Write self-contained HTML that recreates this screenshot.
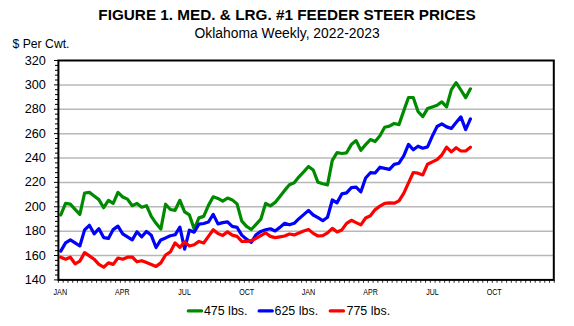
<!DOCTYPE html>
<html><head><meta charset="utf-8"><style>
html,body{margin:0;padding:0;background:#fff;}
body{width:574px;height:326px;overflow:hidden;position:relative;}
svg{position:absolute;left:0;top:0;}
text{font-family:"Liberation Sans",sans-serif;fill:#000;}
.yl{font-size:12.7px;}
.xl{font-size:8.8px;}
.lg{font-size:12px;}
.ttl{font-size:14.5px;font-weight:bold;}
.sub{font-size:14px;}
.unit{font-size:12.6px;}
</style></head><body>
<svg width="574" height="326" viewBox="0 0 574 326">
<rect width="574" height="326" fill="#fff"/>
<text x="98.3" y="19.8" class="ttl" textLength="377.4" lengthAdjust="spacingAndGlyphs">FIGURE 1. MED. &amp; LRG. #1 FEEDER STEER PRICES</text>
<text x="194.6" y="38" class="sub" textLength="185" lengthAdjust="spacingAndGlyphs">Oklahoma Weekly, 2022-2023</text>
<text x="12.5" y="48.2" class="unit" textLength="57" lengthAdjust="spacingAndGlyphs">$ Per Cwt.</text>
<line x1="58.4" y1="255.52" x2="553.8" y2="255.52" stroke="#b8b8b8" stroke-width="1.5"/>
<line x1="58.4" y1="231.14" x2="553.8" y2="231.14" stroke="#b8b8b8" stroke-width="1.5"/>
<line x1="58.4" y1="206.77" x2="553.8" y2="206.77" stroke="#b8b8b8" stroke-width="1.5"/>
<line x1="58.4" y1="182.39" x2="553.8" y2="182.39" stroke="#b8b8b8" stroke-width="1.5"/>
<line x1="58.4" y1="158.01" x2="553.8" y2="158.01" stroke="#b8b8b8" stroke-width="1.5"/>
<line x1="58.4" y1="133.63" x2="553.8" y2="133.63" stroke="#b8b8b8" stroke-width="1.5"/>
<line x1="58.4" y1="109.26" x2="553.8" y2="109.26" stroke="#b8b8b8" stroke-width="1.5"/>
<line x1="58.4" y1="84.88" x2="553.8" y2="84.88" stroke="#b8b8b8" stroke-width="1.5"/>
<line x1="54" y1="279.90" x2="58.4" y2="279.90" stroke="#000" stroke-width="1"/>
<line x1="55" y1="275.02" x2="58.4" y2="275.02" stroke="#000" stroke-width="1"/>
<line x1="55" y1="270.15" x2="58.4" y2="270.15" stroke="#000" stroke-width="1"/>
<line x1="55" y1="265.27" x2="58.4" y2="265.27" stroke="#000" stroke-width="1"/>
<line x1="55" y1="260.40" x2="58.4" y2="260.40" stroke="#000" stroke-width="1"/>
<line x1="54" y1="255.52" x2="58.4" y2="255.52" stroke="#000" stroke-width="1"/>
<line x1="55" y1="250.65" x2="58.4" y2="250.65" stroke="#000" stroke-width="1"/>
<line x1="55" y1="245.77" x2="58.4" y2="245.77" stroke="#000" stroke-width="1"/>
<line x1="55" y1="240.90" x2="58.4" y2="240.90" stroke="#000" stroke-width="1"/>
<line x1="55" y1="236.02" x2="58.4" y2="236.02" stroke="#000" stroke-width="1"/>
<line x1="54" y1="231.14" x2="58.4" y2="231.14" stroke="#000" stroke-width="1"/>
<line x1="55" y1="226.27" x2="58.4" y2="226.27" stroke="#000" stroke-width="1"/>
<line x1="55" y1="221.39" x2="58.4" y2="221.39" stroke="#000" stroke-width="1"/>
<line x1="55" y1="216.52" x2="58.4" y2="216.52" stroke="#000" stroke-width="1"/>
<line x1="55" y1="211.64" x2="58.4" y2="211.64" stroke="#000" stroke-width="1"/>
<line x1="54" y1="206.77" x2="58.4" y2="206.77" stroke="#000" stroke-width="1"/>
<line x1="55" y1="201.89" x2="58.4" y2="201.89" stroke="#000" stroke-width="1"/>
<line x1="55" y1="197.02" x2="58.4" y2="197.02" stroke="#000" stroke-width="1"/>
<line x1="55" y1="192.14" x2="58.4" y2="192.14" stroke="#000" stroke-width="1"/>
<line x1="55" y1="187.26" x2="58.4" y2="187.26" stroke="#000" stroke-width="1"/>
<line x1="54" y1="182.39" x2="58.4" y2="182.39" stroke="#000" stroke-width="1"/>
<line x1="55" y1="177.51" x2="58.4" y2="177.51" stroke="#000" stroke-width="1"/>
<line x1="55" y1="172.64" x2="58.4" y2="172.64" stroke="#000" stroke-width="1"/>
<line x1="55" y1="167.76" x2="58.4" y2="167.76" stroke="#000" stroke-width="1"/>
<line x1="55" y1="162.89" x2="58.4" y2="162.89" stroke="#000" stroke-width="1"/>
<line x1="54" y1="158.01" x2="58.4" y2="158.01" stroke="#000" stroke-width="1"/>
<line x1="55" y1="153.14" x2="58.4" y2="153.14" stroke="#000" stroke-width="1"/>
<line x1="55" y1="148.26" x2="58.4" y2="148.26" stroke="#000" stroke-width="1"/>
<line x1="55" y1="143.38" x2="58.4" y2="143.38" stroke="#000" stroke-width="1"/>
<line x1="55" y1="138.51" x2="58.4" y2="138.51" stroke="#000" stroke-width="1"/>
<line x1="54" y1="133.63" x2="58.4" y2="133.63" stroke="#000" stroke-width="1"/>
<line x1="55" y1="128.76" x2="58.4" y2="128.76" stroke="#000" stroke-width="1"/>
<line x1="55" y1="123.88" x2="58.4" y2="123.88" stroke="#000" stroke-width="1"/>
<line x1="55" y1="119.01" x2="58.4" y2="119.01" stroke="#000" stroke-width="1"/>
<line x1="55" y1="114.13" x2="58.4" y2="114.13" stroke="#000" stroke-width="1"/>
<line x1="54" y1="109.26" x2="58.4" y2="109.26" stroke="#000" stroke-width="1"/>
<line x1="55" y1="104.38" x2="58.4" y2="104.38" stroke="#000" stroke-width="1"/>
<line x1="55" y1="99.50" x2="58.4" y2="99.50" stroke="#000" stroke-width="1"/>
<line x1="55" y1="94.63" x2="58.4" y2="94.63" stroke="#000" stroke-width="1"/>
<line x1="55" y1="89.75" x2="58.4" y2="89.75" stroke="#000" stroke-width="1"/>
<line x1="54" y1="84.88" x2="58.4" y2="84.88" stroke="#000" stroke-width="1"/>
<line x1="55" y1="80.00" x2="58.4" y2="80.00" stroke="#000" stroke-width="1"/>
<line x1="55" y1="75.13" x2="58.4" y2="75.13" stroke="#000" stroke-width="1"/>
<line x1="55" y1="70.25" x2="58.4" y2="70.25" stroke="#000" stroke-width="1"/>
<line x1="55" y1="65.38" x2="58.4" y2="65.38" stroke="#000" stroke-width="1"/>
<line x1="54" y1="60.50" x2="58.4" y2="60.50" stroke="#000" stroke-width="1"/>
<line x1="58.40" y1="279.9" x2="58.40" y2="282.8" stroke="#333" stroke-width="1"/>
<line x1="63.17" y1="279.9" x2="63.17" y2="282.8" stroke="#333" stroke-width="1"/>
<line x1="67.94" y1="279.9" x2="67.94" y2="282.8" stroke="#333" stroke-width="1"/>
<line x1="72.70" y1="279.9" x2="72.70" y2="282.8" stroke="#333" stroke-width="1"/>
<line x1="77.47" y1="279.9" x2="77.47" y2="282.8" stroke="#333" stroke-width="1"/>
<line x1="82.24" y1="279.9" x2="82.24" y2="282.8" stroke="#333" stroke-width="1"/>
<line x1="87.01" y1="279.9" x2="87.01" y2="282.8" stroke="#333" stroke-width="1"/>
<line x1="91.78" y1="279.9" x2="91.78" y2="282.8" stroke="#333" stroke-width="1"/>
<line x1="96.54" y1="279.9" x2="96.54" y2="282.8" stroke="#333" stroke-width="1"/>
<line x1="101.31" y1="279.9" x2="101.31" y2="282.8" stroke="#333" stroke-width="1"/>
<line x1="106.08" y1="279.9" x2="106.08" y2="282.8" stroke="#333" stroke-width="1"/>
<line x1="110.85" y1="279.9" x2="110.85" y2="282.8" stroke="#333" stroke-width="1"/>
<line x1="115.62" y1="279.9" x2="115.62" y2="282.8" stroke="#333" stroke-width="1"/>
<line x1="120.38" y1="279.9" x2="120.38" y2="282.8" stroke="#333" stroke-width="1"/>
<line x1="125.15" y1="279.9" x2="125.15" y2="282.8" stroke="#333" stroke-width="1"/>
<line x1="129.92" y1="279.9" x2="129.92" y2="282.8" stroke="#333" stroke-width="1"/>
<line x1="134.69" y1="279.9" x2="134.69" y2="282.8" stroke="#333" stroke-width="1"/>
<line x1="139.46" y1="279.9" x2="139.46" y2="282.8" stroke="#333" stroke-width="1"/>
<line x1="144.22" y1="279.9" x2="144.22" y2="282.8" stroke="#333" stroke-width="1"/>
<line x1="148.99" y1="279.9" x2="148.99" y2="282.8" stroke="#333" stroke-width="1"/>
<line x1="153.76" y1="279.9" x2="153.76" y2="282.8" stroke="#333" stroke-width="1"/>
<line x1="158.53" y1="279.9" x2="158.53" y2="282.8" stroke="#333" stroke-width="1"/>
<line x1="163.30" y1="279.9" x2="163.30" y2="282.8" stroke="#333" stroke-width="1"/>
<line x1="168.06" y1="279.9" x2="168.06" y2="282.8" stroke="#333" stroke-width="1"/>
<line x1="172.83" y1="279.9" x2="172.83" y2="282.8" stroke="#333" stroke-width="1"/>
<line x1="177.60" y1="279.9" x2="177.60" y2="282.8" stroke="#333" stroke-width="1"/>
<line x1="182.37" y1="279.9" x2="182.37" y2="282.8" stroke="#333" stroke-width="1"/>
<line x1="187.14" y1="279.9" x2="187.14" y2="282.8" stroke="#333" stroke-width="1"/>
<line x1="191.90" y1="279.9" x2="191.90" y2="282.8" stroke="#333" stroke-width="1"/>
<line x1="196.67" y1="279.9" x2="196.67" y2="282.8" stroke="#333" stroke-width="1"/>
<line x1="201.44" y1="279.9" x2="201.44" y2="282.8" stroke="#333" stroke-width="1"/>
<line x1="206.21" y1="279.9" x2="206.21" y2="282.8" stroke="#333" stroke-width="1"/>
<line x1="210.98" y1="279.9" x2="210.98" y2="282.8" stroke="#333" stroke-width="1"/>
<line x1="215.74" y1="279.9" x2="215.74" y2="282.8" stroke="#333" stroke-width="1"/>
<line x1="220.51" y1="279.9" x2="220.51" y2="282.8" stroke="#333" stroke-width="1"/>
<line x1="225.28" y1="279.9" x2="225.28" y2="282.8" stroke="#333" stroke-width="1"/>
<line x1="230.05" y1="279.9" x2="230.05" y2="282.8" stroke="#333" stroke-width="1"/>
<line x1="234.82" y1="279.9" x2="234.82" y2="282.8" stroke="#333" stroke-width="1"/>
<line x1="239.58" y1="279.9" x2="239.58" y2="282.8" stroke="#333" stroke-width="1"/>
<line x1="244.35" y1="279.9" x2="244.35" y2="282.8" stroke="#333" stroke-width="1"/>
<line x1="249.12" y1="279.9" x2="249.12" y2="282.8" stroke="#333" stroke-width="1"/>
<line x1="253.89" y1="279.9" x2="253.89" y2="282.8" stroke="#333" stroke-width="1"/>
<line x1="258.66" y1="279.9" x2="258.66" y2="282.8" stroke="#333" stroke-width="1"/>
<line x1="263.42" y1="279.9" x2="263.42" y2="282.8" stroke="#333" stroke-width="1"/>
<line x1="268.19" y1="279.9" x2="268.19" y2="282.8" stroke="#333" stroke-width="1"/>
<line x1="272.96" y1="279.9" x2="272.96" y2="282.8" stroke="#333" stroke-width="1"/>
<line x1="277.73" y1="279.9" x2="277.73" y2="282.8" stroke="#333" stroke-width="1"/>
<line x1="282.50" y1="279.9" x2="282.50" y2="282.8" stroke="#333" stroke-width="1"/>
<line x1="287.26" y1="279.9" x2="287.26" y2="282.8" stroke="#333" stroke-width="1"/>
<line x1="292.03" y1="279.9" x2="292.03" y2="282.8" stroke="#333" stroke-width="1"/>
<line x1="296.80" y1="279.9" x2="296.80" y2="282.8" stroke="#333" stroke-width="1"/>
<line x1="301.57" y1="279.9" x2="301.57" y2="282.8" stroke="#333" stroke-width="1"/>
<line x1="306.34" y1="279.9" x2="306.34" y2="282.8" stroke="#333" stroke-width="1"/>
<line x1="311.10" y1="279.9" x2="311.10" y2="282.8" stroke="#333" stroke-width="1"/>
<line x1="315.87" y1="279.9" x2="315.87" y2="282.8" stroke="#333" stroke-width="1"/>
<line x1="320.64" y1="279.9" x2="320.64" y2="282.8" stroke="#333" stroke-width="1"/>
<line x1="325.41" y1="279.9" x2="325.41" y2="282.8" stroke="#333" stroke-width="1"/>
<line x1="330.18" y1="279.9" x2="330.18" y2="282.8" stroke="#333" stroke-width="1"/>
<line x1="334.94" y1="279.9" x2="334.94" y2="282.8" stroke="#333" stroke-width="1"/>
<line x1="339.71" y1="279.9" x2="339.71" y2="282.8" stroke="#333" stroke-width="1"/>
<line x1="344.48" y1="279.9" x2="344.48" y2="282.8" stroke="#333" stroke-width="1"/>
<line x1="349.25" y1="279.9" x2="349.25" y2="282.8" stroke="#333" stroke-width="1"/>
<line x1="354.02" y1="279.9" x2="354.02" y2="282.8" stroke="#333" stroke-width="1"/>
<line x1="358.78" y1="279.9" x2="358.78" y2="282.8" stroke="#333" stroke-width="1"/>
<line x1="363.55" y1="279.9" x2="363.55" y2="282.8" stroke="#333" stroke-width="1"/>
<line x1="368.32" y1="279.9" x2="368.32" y2="282.8" stroke="#333" stroke-width="1"/>
<line x1="373.09" y1="279.9" x2="373.09" y2="282.8" stroke="#333" stroke-width="1"/>
<line x1="377.86" y1="279.9" x2="377.86" y2="282.8" stroke="#333" stroke-width="1"/>
<line x1="382.62" y1="279.9" x2="382.62" y2="282.8" stroke="#333" stroke-width="1"/>
<line x1="387.39" y1="279.9" x2="387.39" y2="282.8" stroke="#333" stroke-width="1"/>
<line x1="392.16" y1="279.9" x2="392.16" y2="282.8" stroke="#333" stroke-width="1"/>
<line x1="396.93" y1="279.9" x2="396.93" y2="282.8" stroke="#333" stroke-width="1"/>
<line x1="401.70" y1="279.9" x2="401.70" y2="282.8" stroke="#333" stroke-width="1"/>
<line x1="406.46" y1="279.9" x2="406.46" y2="282.8" stroke="#333" stroke-width="1"/>
<line x1="411.23" y1="279.9" x2="411.23" y2="282.8" stroke="#333" stroke-width="1"/>
<line x1="416.00" y1="279.9" x2="416.00" y2="282.8" stroke="#333" stroke-width="1"/>
<line x1="420.77" y1="279.9" x2="420.77" y2="282.8" stroke="#333" stroke-width="1"/>
<line x1="425.54" y1="279.9" x2="425.54" y2="282.8" stroke="#333" stroke-width="1"/>
<line x1="430.30" y1="279.9" x2="430.30" y2="282.8" stroke="#333" stroke-width="1"/>
<line x1="435.07" y1="279.9" x2="435.07" y2="282.8" stroke="#333" stroke-width="1"/>
<line x1="439.84" y1="279.9" x2="439.84" y2="282.8" stroke="#333" stroke-width="1"/>
<line x1="444.61" y1="279.9" x2="444.61" y2="282.8" stroke="#333" stroke-width="1"/>
<line x1="449.38" y1="279.9" x2="449.38" y2="282.8" stroke="#333" stroke-width="1"/>
<line x1="454.14" y1="279.9" x2="454.14" y2="282.8" stroke="#333" stroke-width="1"/>
<line x1="458.91" y1="279.9" x2="458.91" y2="282.8" stroke="#333" stroke-width="1"/>
<line x1="463.68" y1="279.9" x2="463.68" y2="282.8" stroke="#333" stroke-width="1"/>
<line x1="468.45" y1="279.9" x2="468.45" y2="282.8" stroke="#333" stroke-width="1"/>
<line x1="473.22" y1="279.9" x2="473.22" y2="282.8" stroke="#333" stroke-width="1"/>
<line x1="477.98" y1="279.9" x2="477.98" y2="282.8" stroke="#333" stroke-width="1"/>
<line x1="482.75" y1="279.9" x2="482.75" y2="282.8" stroke="#333" stroke-width="1"/>
<line x1="487.52" y1="279.9" x2="487.52" y2="282.8" stroke="#333" stroke-width="1"/>
<line x1="492.29" y1="279.9" x2="492.29" y2="282.8" stroke="#333" stroke-width="1"/>
<line x1="497.06" y1="279.9" x2="497.06" y2="282.8" stroke="#333" stroke-width="1"/>
<line x1="501.82" y1="279.9" x2="501.82" y2="282.8" stroke="#333" stroke-width="1"/>
<line x1="506.59" y1="279.9" x2="506.59" y2="282.8" stroke="#333" stroke-width="1"/>
<line x1="511.36" y1="279.9" x2="511.36" y2="282.8" stroke="#333" stroke-width="1"/>
<line x1="516.13" y1="279.9" x2="516.13" y2="282.8" stroke="#333" stroke-width="1"/>
<line x1="520.90" y1="279.9" x2="520.90" y2="282.8" stroke="#333" stroke-width="1"/>
<line x1="525.66" y1="279.9" x2="525.66" y2="282.8" stroke="#333" stroke-width="1"/>
<line x1="530.43" y1="279.9" x2="530.43" y2="282.8" stroke="#333" stroke-width="1"/>
<line x1="535.20" y1="279.9" x2="535.20" y2="282.8" stroke="#333" stroke-width="1"/>
<line x1="539.97" y1="279.9" x2="539.97" y2="282.8" stroke="#333" stroke-width="1"/>
<line x1="544.74" y1="279.9" x2="544.74" y2="282.8" stroke="#333" stroke-width="1"/>
<line x1="549.50" y1="279.9" x2="549.50" y2="282.8" stroke="#333" stroke-width="1"/>
<line x1="554.27" y1="279.9" x2="554.27" y2="282.8" stroke="#333" stroke-width="1"/>
<polyline fill="none" stroke="#008a00" stroke-width="3.2" stroke-linejoin="round" stroke-linecap="round" points="60.80,214.90 65.56,203.40 70.33,204.20 75.09,209.40 79.85,214.40 84.61,193.00 89.38,192.40 94.14,196.00 98.90,199.60 103.67,207.70 108.43,200.40 113.19,203.40 117.96,192.40 122.72,197.00 127.48,199.10 132.25,205.70 137.01,203.40 141.77,207.20 146.53,205.70 151.30,216.40 156.06,223.30 160.82,229.10 165.59,204.20 170.35,209.50 175.11,210.30 179.88,200.30 184.64,211.80 189.40,214.90 194.16,229.10 198.93,217.90 203.69,216.40 208.45,205.40 213.22,196.80 217.98,198.40 222.74,201.10 227.50,198.10 232.27,199.90 237.03,203.90 241.79,221.10 246.56,226.40 251.32,229.50 256.08,224.40 260.85,219.20 265.61,203.40 270.37,205.90 275.13,202.40 279.90,196.40 284.66,190.40 289.42,184.80 294.19,182.80 298.95,176.80 303.71,171.90 308.48,166.50 313.24,170.00 318.00,182.30 322.76,183.80 327.53,184.90 332.29,160.40 337.05,152.70 341.82,153.50 346.58,152.80 351.34,144.60 356.11,140.60 360.87,150.30 365.63,144.60 370.39,139.60 375.16,141.50 379.92,135.70 384.68,127.20 389.45,126.10 394.21,123.50 398.97,124.60 403.74,110.90 408.50,97.50 413.26,97.50 418.02,111.50 422.79,116.60 427.55,108.60 432.31,106.90 437.08,105.30 441.84,101.80 446.60,106.90 451.37,89.60 456.13,82.70 460.89,90.00 465.66,97.70 470.42,88.80"/>
<polyline fill="none" stroke="#0000ff" stroke-width="3.2" stroke-linejoin="round" stroke-linecap="round" points="60.80,251.10 65.56,242.90 70.33,239.90 75.09,242.90 79.85,246.00 84.61,229.90 89.38,225.30 94.14,233.80 98.90,228.70 103.67,237.60 108.43,238.40 113.19,229.60 117.96,226.10 122.72,233.80 127.48,236.90 132.25,239.90 137.01,231.80 141.77,236.80 146.53,231.40 151.30,235.30 156.06,247.50 160.82,239.90 165.59,237.90 170.35,235.70 175.11,234.80 179.88,227.20 184.64,249.10 189.40,230.20 194.16,232.20 198.93,224.10 203.69,223.50 208.45,222.00 213.22,214.40 217.98,223.90 222.74,222.60 227.50,221.80 232.27,226.40 237.03,227.40 241.79,235.10 246.56,239.20 251.32,242.40 256.08,234.70 260.85,231.40 265.61,229.70 270.37,228.80 275.13,231.00 279.90,227.40 284.66,223.30 289.42,224.80 294.19,223.30 298.95,218.70 303.71,214.60 308.48,210.40 313.24,215.00 318.00,217.60 322.76,220.70 327.53,217.20 332.29,200.00 337.05,202.80 341.82,193.90 346.58,192.90 351.34,187.70 356.11,187.20 360.87,191.80 365.63,178.00 370.39,172.70 375.16,173.00 379.92,167.20 384.68,168.40 389.45,169.40 394.21,164.40 398.97,163.20 403.74,155.90 408.50,144.40 413.26,149.80 418.02,146.20 422.79,148.20 427.55,146.90 432.31,136.10 437.08,126.50 441.84,123.80 446.60,126.90 451.37,128.40 456.13,122.60 460.89,116.90 465.66,129.60 470.42,118.90"/>
<polyline fill="none" stroke="#ff0000" stroke-width="3.2" stroke-linejoin="round" stroke-linecap="round" points="60.80,257.20 65.56,259.20 70.33,257.20 75.09,263.80 79.85,261.10 84.61,252.60 89.38,255.90 94.14,259.20 98.90,264.40 103.67,267.20 108.43,262.90 113.19,264.40 117.96,258.00 122.72,259.20 127.48,257.20 132.25,257.00 137.01,261.80 141.77,260.70 146.53,262.60 151.30,264.40 156.06,266.40 160.82,262.90 165.59,255.00 170.35,251.90 175.11,242.80 179.88,247.40 184.64,241.90 189.40,246.00 194.16,244.80 198.93,241.40 203.69,243.00 208.45,236.40 213.22,229.80 217.98,233.60 222.74,235.40 227.50,231.90 232.27,235.10 237.03,236.40 241.79,241.40 246.56,241.40 251.32,240.70 256.08,238.40 260.85,235.60 265.61,232.80 270.37,236.40 275.13,237.60 279.90,236.80 284.66,236.00 289.42,234.00 294.19,234.90 298.95,232.90 303.71,231.00 308.48,229.40 313.24,233.40 318.00,236.00 322.76,235.60 327.53,232.90 332.29,228.40 337.05,231.90 341.82,229.90 346.58,223.40 351.34,220.30 356.11,222.60 360.87,224.90 365.63,218.00 370.39,215.70 375.16,209.60 379.92,206.10 384.68,203.40 389.45,202.80 394.21,203.20 398.97,200.90 403.74,193.40 408.50,182.90 413.26,172.50 418.02,173.20 422.79,174.90 427.55,164.20 432.31,161.90 437.08,159.60 441.84,155.00 446.60,147.20 451.37,151.90 456.13,147.70 460.89,151.00 465.66,151.00 470.42,147.20"/>
<rect x="58.4" y="60.5" width="495.4" height="219.39999999999998" fill="none" stroke="#000" stroke-width="2"/>
<text x="45.8" y="284.00" text-anchor="end" class="yl">140</text>
<text x="45.8" y="259.62" text-anchor="end" class="yl">160</text>
<text x="45.8" y="235.24" text-anchor="end" class="yl">180</text>
<text x="45.8" y="210.87" text-anchor="end" class="yl">200</text>
<text x="45.8" y="186.49" text-anchor="end" class="yl">220</text>
<text x="45.8" y="162.11" text-anchor="end" class="yl">240</text>
<text x="45.8" y="137.73" text-anchor="end" class="yl">260</text>
<text x="45.8" y="113.36" text-anchor="end" class="yl">280</text>
<text x="45.8" y="88.98" text-anchor="end" class="yl">300</text>
<text x="45.8" y="64.60" text-anchor="end" class="yl">320</text>
<text x="60.3" y="294.6" text-anchor="middle" class="xl" textLength="13.6" lengthAdjust="spacingAndGlyphs">JAN</text>
<text x="122.3" y="294.6" text-anchor="middle" class="xl" textLength="14.5" lengthAdjust="spacingAndGlyphs">APR</text>
<text x="184.6" y="294.6" text-anchor="middle" class="xl" textLength="12.5" lengthAdjust="spacingAndGlyphs">JUL</text>
<text x="246.7" y="294.6" text-anchor="middle" class="xl" textLength="15.1" lengthAdjust="spacingAndGlyphs">OCT</text>
<text x="308.5" y="294.6" text-anchor="middle" class="xl" textLength="13.6" lengthAdjust="spacingAndGlyphs">JAN</text>
<text x="370.6" y="294.6" text-anchor="middle" class="xl" textLength="14.5" lengthAdjust="spacingAndGlyphs">APR</text>
<text x="432.5" y="294.6" text-anchor="middle" class="xl" textLength="12.5" lengthAdjust="spacingAndGlyphs">JUL</text>
<text x="494.2" y="294.6" text-anchor="middle" class="xl" textLength="15.1" lengthAdjust="spacingAndGlyphs">OCT</text>
<line x1="188.3" y1="310.9" x2="201.6" y2="310.9" stroke="#008a00" stroke-width="3.2" stroke-linecap="round"/>
<text x="203.9" y="315.3" class="lg" textLength="43.6" lengthAdjust="spacingAndGlyphs">475 lbs.</text>
<line x1="259.1" y1="310.9" x2="272.3" y2="310.9" stroke="#0000ff" stroke-width="3.2" stroke-linecap="round"/>
<text x="274.5" y="315.3" class="lg" textLength="43.6" lengthAdjust="spacingAndGlyphs">625 lbs.</text>
<line x1="330.2" y1="310.9" x2="343.5" y2="310.9" stroke="#ff0000" stroke-width="3.2" stroke-linecap="round"/>
<text x="346.5" y="315.3" class="lg" textLength="43.6" lengthAdjust="spacingAndGlyphs">775 lbs.</text>
</svg>
</body></html>
